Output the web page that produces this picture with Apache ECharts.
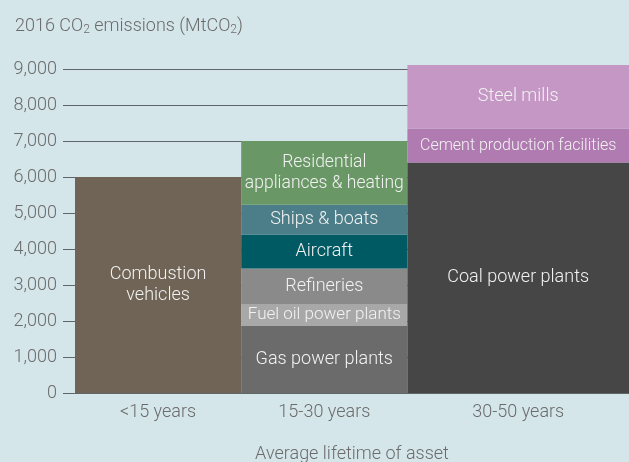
<!DOCTYPE html>
<html>
<head>
<meta charset="utf-8">
<script src="https://cdn.jsdelivr.net/npm/echarts@6/dist/echarts.min.js"></script>
<style>
  html, body { margin: 0; padding: 0; background: #d5e6eb; }
  #chart { width: 629px; height: 462px; }
</style>
</head>
<body>
<div id="chart"></div>
<script>
  // age groups (bar width = lifetime span in years)
  var ageGroups = ['<15 years', '15-30 years', '30-50 years']
  var ageStart = [0, 15, 30]
  var ageEnd = [15, 30, 50]

  // asset segments, stacked bottom to top within each group
  var assetNames = [
    'Combustion\nvehicles',
    'Gas power plants', 'Fuel oil power plants', 'Refineries', 'Aircraft', 'Ships & boats', 'Residential\nappliances & heating',
    'Coal power plants', 'Cement production facilities', 'Steel mills'
  ]
  var assetGroup = [0, 1, 1, 1, 1, 1, 1, 2, 2, 2]
  var emissions = [6000, 1860, 600, 1000, 940, 830, 1770, 6400, 940, 1770]
  var assetColors = ['#6f6455', '#6b6b6b', '#a8a8a8', '#8a8a8a', '#005a63', '#4b7e88', '#6a9766', '#464646', '#b07bb1', '#c497c5']
  var labelSizes = [18, 18, 17, 18, 18, 18, 17.5, 18, 16, 18]

  var textColor = '#6b6b6b'
  var fontFamily = 'Roboto, "Liberation Sans", sans-serif'

  // build stacked rectangles
  var base = [0, 0, 0]
  var rects = assetNames.map(function (name, i) {
    var g = assetGroup[i]
    var y0 = base[g]
    var y1 = y0 + emissions[i]
    base[g] = y1
    return { value: [ageStart[g], ageEnd[g], y0, y1], name: name, color: assetColors[i], size: labelSizes[i] }
  })

  var chart = echarts.init(document.getElementById('chart'))
  chart.setOption({
    backgroundColor: '#d5e6eb',
    animation: false,
    textStyle: { fontFamily: fontFamily, fontWeight: 300 },
    title: {
      text: '2016 CO{sub|2} emissions (MtCO{sub|2})',
      left: 10,
      top: 12,
      textStyle: {
        color: textColor,
        fontSize: 18,
        fontWeight: 300,
        fontFamily: fontFamily,
        rich: {
          sub: { fontSize: 12, fontWeight: 300, color: textColor, verticalAlign: 'bottom', padding: [7, 0, 0, 0], fontFamily: fontFamily }
        }
      }
    },
    grid: { left: 75, right: 0, top: 69, bottom: 69, outerBoundsMode: 'none' },
    xAxis: {
      type: 'value',
      min: 0,
      max: 50,
      axisLine: { show: false },
      axisTick: { show: false },
      splitLine: { show: false },
      axisLabel: {
        customValues: [7.5, 22.5, 40],
        margin: 10,
        color: textColor,
        fontSize: 18,
        fontWeight: 300,
        fontFamily: fontFamily,
        formatter: function (v) {
          var idx = [7.5, 22.5, 40].indexOf(v)
          return idx >= 0 ? ageGroups[idx] : ''
        }
      },
      name: 'Average lifetime of asset',
      nameLocation: 'middle',
      nameGap: 52,
      nameTextStyle: { color: textColor, fontSize: 18, fontWeight: 300, fontFamily: fontFamily }
    },
    yAxis: {
      type: 'value',
      min: 0,
      max: 9000,
      interval: 1000,
      axisLine: { show: false },
      axisTick: { show: true, length: 12, lineStyle: { color: '#5f666a' } },
      splitLine: { show: true, lineStyle: { color: '#5f666a', width: 1 } },
      axisLabel: {
        margin: 18,
        color: textColor,
        fontSize: 18,
        fontWeight: 300,
        fontFamily: fontFamily,
        formatter: function (v) { return v.toLocaleString('en-US') }
      }
    },
    series: [{
      type: 'custom',
      data: rects,
      encode: { x: [0, 1], y: [2, 3] },
      renderItem: function (params, api) {
        var p0 = api.coord([api.value(0), api.value(2)])
        var p1 = api.coord([api.value(1), api.value(3)])
        var item = rects[params.dataIndex]
        return {
          type: 'rect',
          shape: { x: p0[0], y: p1[1], width: p1[0] - p0[0], height: p0[1] - p1[1] },
          style: { fill: item.color },
          textContent: {
            style: {
              text: item.name,
              fill: '#f2f2f2',
              fontSize: item.size,
              fontWeight: 300,
              lineHeight: 21,
              fontFamily: fontFamily,
              align: 'center'
            }
          },
          textConfig: { position: 'inside' }
        }
      }
    }]
  })
</script>
</body>
</html>
